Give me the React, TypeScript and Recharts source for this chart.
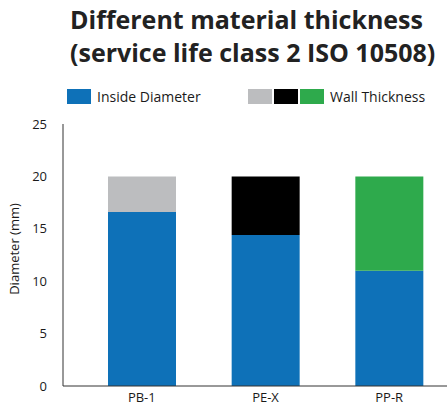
import { Bar, BarChart, Cell, XAxis, YAxis } from 'recharts';

const BLUE = '#0e71b8';
const GREY = '#bcbdbf';
const BLACK = '#000000';
const GREEN = '#2eaa4c';
const AXIS = '#333333';
const TEXT = '#1a1a1a';
const FONT = '"Open Sans", "Noto Sans", sans-serif';

const materials = ['PB-1', 'PE-X', 'PP-R'];
const insideDiameter = [16.6, 14.4, 11.0];
const wallThickness = [3.4, 5.6, 9.0];
const wallColors = [GREY, BLACK, GREEN];
const yTicks = [0, 5, 10, 15, 20, 25];

const data = materials.map((m, i) => ({
  name: m,
  inside: insideDiameter[i],
  wall: wallThickness[i],
}));

const swatch = (color: string): React.CSSProperties => ({
  display: 'inline-block',
  width: 24,
  height: 15,
  background: color,
  marginRight: 2,
});

export default function App() {
  return (
    <div
      style={{
        position: 'absolute',
        left: 0,
        top: 0,
        width: 447,
        height: 406,
        background: '#fff',
        fontFamily: FONT,
        overflow: 'hidden',
      }}
    >
      <div
        style={{
          position: 'absolute',
          left: 70,
          top: 3,
          fontSize: 25,
          fontWeight: 700,
          lineHeight: '33px',
          color: '#222',
          whiteSpace: 'nowrap',
        }}
      >
        Different material thickness
        <br />
        (service life class 2 ISO 10508)
      </div>
      <div
        style={{
          position: 'absolute',
          top: 87,
          left: 67,
          display: 'flex',
          alignItems: 'center',
          fontSize: 14,
          color: TEXT,
          whiteSpace: 'nowrap',
        }}
      >
        <span style={swatch(BLUE)} />
        <span style={{ marginLeft: 4, width: 151 }}>Inside Diameter</span>
        {wallColors.map((c) => (
          <span key={c} style={swatch(c)} />
        ))}
        <span style={{ marginLeft: 4 }}>Wall Thickness</span>
      </div>
      <BarChart
        width={447}
        height={406}
        data={data}
        margin={{ top: 124, right: -4, left: 0, bottom: 0 }}
        barSize={68}
      >
        <XAxis
          dataKey="name"
          height={20}
          tickLine={false}
          tickSize={0}
          tickMargin={7}
          padding={{ left: 17, right: 0 }}
          stroke={AXIS}
          tick={{ fill: TEXT, fontSize: 13, fontFamily: FONT }}
        />
        <YAxis
          width={63}
          domain={[0, 25]}
          ticks={yTicks}
          tickLine={false}
          tickMargin={10}
          stroke={AXIS}
          tick={{ fill: TEXT, fontSize: 13, fontFamily: FONT }}
          label={{
            value: 'Diameter (mm)',
            angle: -90,
            position: 'insideLeft',
            offset: 14,
            dy: -6,
            style: { fill: TEXT, fontSize: 13, fontFamily: FONT, textAnchor: 'middle' },
          }}
        />
        <Bar dataKey="inside" stackId="a" fill={BLUE} isAnimationActive={false} />
        <Bar dataKey="wall" stackId="a" isAnimationActive={false}>
          {data.map((d, i) => (
            <Cell key={d.name} fill={wallColors[i]} />
          ))}
        </Bar>
      </BarChart>
    </div>
  );
}
